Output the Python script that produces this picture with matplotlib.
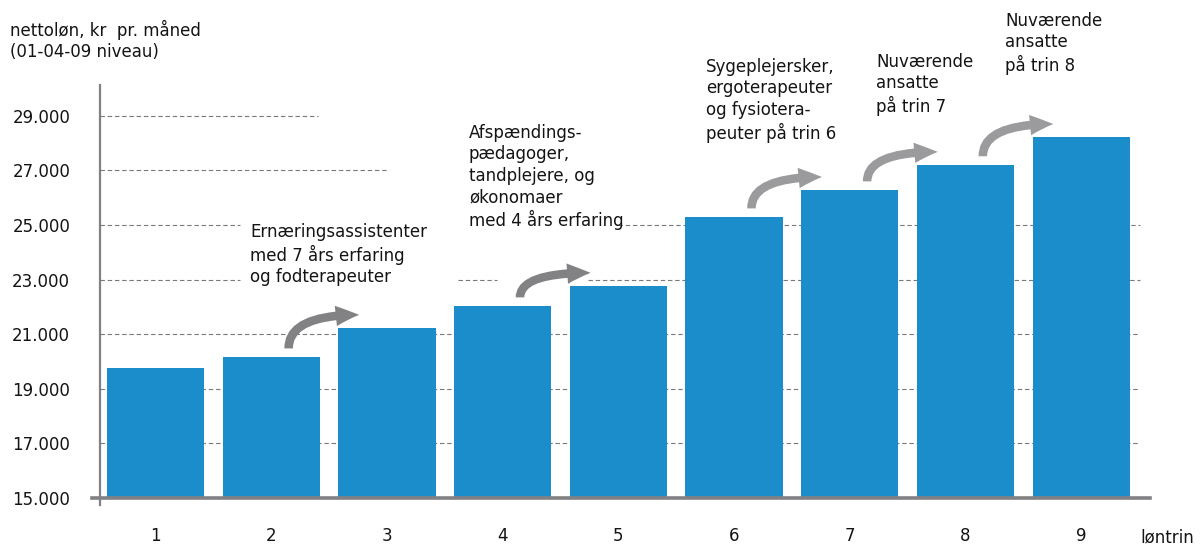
import matplotlib.pyplot as plt
from matplotlib.patches import FancyArrowPatch

plt.rcParams['font.family'] = ['DejaVu Sans']

trin = [1, 2, 3, 4, 5, 6, 7, 8, 9]
nettoloen = [19760, 20160, 21230, 22030, 22770, 25290, 26280, 27200, 28220]
y_ticks = [15000, 17000, 19000, 21000, 23000, 25000, 27000, 29000]
y_ticklabels = ['15.000', '17.000', '19.000', '21.000', '23.000', '25.000', '27.000', '29.000']

# arrows: from bar -> next bar
arrow_from = [2, 4, 6, 7, 8]

notes = [
    "Ernæringsassistenter\nmed 7 års erfaring\nog fodterapeuter",
    "Afspændings-\npædagoger,\ntandplejere, og\nøkonomaer\nmed 4 års erfaring",
    "Sygeplejersker,\nergoterapeuter\nog fysiotera-\npeuter på trin 6",
    "Nuværende\nansatte\npå trin 7",
    "Nuværende\nansatte\npå trin 8",
]

W, H = 1201, 544
fig = plt.figure(figsize=(W / 100, H / 100), dpi=100)
ax = fig.add_axes([100 / W, 46 / H, 1050 / W, 413 / H])
ax.set_xlim(0.52, 9.595)
ax.set_ylim(15000, 30130)

blue = '#1b8dcb'
gray = '#818185'
txtcol = '#141414'

# dashed grid pieces (some are interrupted by the annotations)
grid = {
    17000: [(0.52, 9.51)],
    19000: [(0.52, 9.51)],
    21000: [(0.52, 9.51)],
    23000: [(0.52, 1.73), (3.61, 3.95), (4.74, 9.51)],
    25000: [(0.52, 1.73), (5.0, 9.51)],
    27000: [(0.52, 3.02)],
    29000: [(0.52, 2.40)],
}
for yv, segs in grid.items():
    for a, b in segs:
        ax.plot([a, b], [yv, yv], color='#7a7a7a', lw=0.8, ls=(0, (4, 2.5)), zorder=1)

ax.bar(trin, nettoloen, width=0.84, color=blue, zorder=2)

for i in arrow_from:
    v0 = nettoloen[i - 1]
    v1 = nettoloen[i]
    col = '#828285' if i < 5 else '#9b9b9e'
    arr = FancyArrowPatch((i + 0.15, v0 + 320), (i + 0.76, v1 + 480),
                          connectionstyle="angle3,angleA=90,angleB=0",
                          arrowstyle="simple,head_length=1.2,head_width=1.05,tail_width=0.44",
                          mutation_scale=14, lw=0, color=col,
                          shrinkA=0, shrinkB=0, zorder=3)
    ax.add_patch(arr)

for s in ax.spines.values():
    s.set_visible(False)
ax.plot([0.52, 0.52], [14750, 30130], color=gray, lw=1.6, clip_on=False, zorder=4)
ax.plot([0.455, 9.595], [15000, 15000], color=gray, lw=2.6, clip_on=False, zorder=4)

fs = 12
ax.set_yticks(y_ticks)
ax.set_yticklabels(y_ticklabels)
ax.set_xticks(trin)
ax.set_xticklabels([str(t) for t in trin])
ax.tick_params(length=0, labelsize=fs, colors=txtcol)
ax.tick_params(axis='y', pad=21.5)
ax.tick_params(axis='x', pad=21)

note_pos = [(250, 223), (469, 124), (706, 58), (876, 53), (1005, 12)]
for txt, (px, py) in zip(notes, note_pos):
    fig.text(px / W, 1 - py / H, txt, ha='left', va='top', fontsize=fs,
             color=txtcol, linespacing=1.24)

fig.text(10 / W, 1 - 20 / H, "nettoløn, kr  pr. måned\n(01-04-09 niveau)",
         ha='left', va='top', fontsize=fs, color=txtcol, linespacing=1.24)
fig.text(1140 / W, 1 - 537 / H, "løntrin", ha='left', va='center',
         fontsize=fs, color=txtcol)

fig.savefig('out.png', dpi=100)
